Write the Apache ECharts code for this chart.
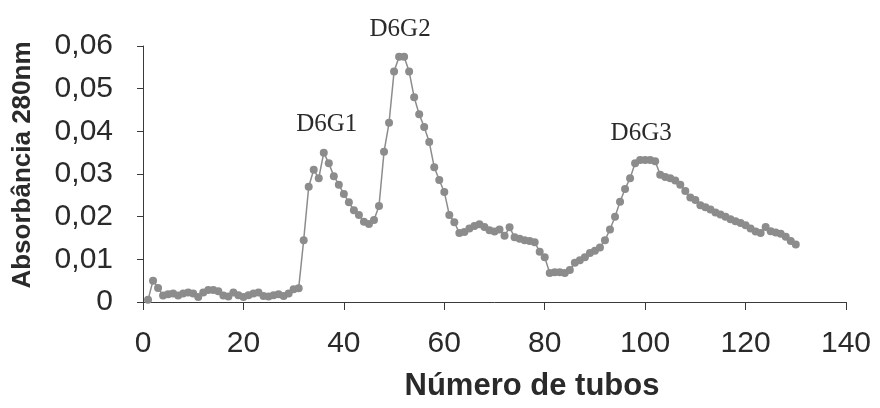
<!DOCTYPE html>
<html>
<head>
<meta charset="utf-8">
<script src="https://cdn.jsdelivr.net/npm/echarts@6/dist/echarts.min.js"></script>
<style>
html,body{margin:0;padding:0;background:#fff;}
#chart{width:880px;height:408px;}
</style>
</head>
<body>
<div id="chart"></div>
<script>
// Tube numbers (x) and absorbance at 280 nm (y)
var tubes = [];
for (var t = 1; t <= 130; t++) tubes.push(t);
var absorbance = [
  0.0005, 0.0050, 0.0033, 0.0015, 0.0018, 0.0020, 0.0015, 0.0020, 0.0022, 0.0020,
  0.0012, 0.0022, 0.0028, 0.0028, 0.0025, 0.0015, 0.0013, 0.0022, 0.0016, 0.0012,
  0.0016, 0.0020, 0.0022, 0.0014, 0.0013, 0.0016, 0.0018, 0.0014, 0.0020, 0.0030,
  0.0032, 0.0145, 0.0270, 0.0310, 0.0290, 0.0350, 0.0325, 0.0295, 0.0275, 0.0253,
  0.0234, 0.0215, 0.0204, 0.0188, 0.0183, 0.0192, 0.0225, 0.0352, 0.0420, 0.0540,
  0.0575, 0.0575, 0.0540, 0.0480, 0.0440, 0.0410, 0.0375, 0.0316, 0.0286, 0.0258,
  0.0204, 0.0187, 0.0162, 0.0164, 0.0172, 0.0178, 0.0182, 0.0176, 0.0168, 0.0165,
  0.0170, 0.0155, 0.0175, 0.0152, 0.0148, 0.0145, 0.0143, 0.0140, 0.0118, 0.0105,
  0.0068, 0.0070, 0.0070, 0.0068, 0.0075, 0.0092, 0.0098, 0.0105, 0.0115, 0.0120,
  0.0128, 0.0145, 0.0170, 0.0200, 0.0235, 0.0265, 0.0290, 0.0325, 0.0333, 0.0333,
  0.0333, 0.0330, 0.0298, 0.0293, 0.0290, 0.0285, 0.0275, 0.0260, 0.0245, 0.0239,
  0.0227, 0.0222, 0.0217, 0.0210, 0.0205, 0.0200, 0.0194, 0.0189, 0.0185, 0.0180,
  0.0172, 0.0165, 0.0162, 0.0176, 0.0166, 0.0163, 0.0160, 0.0153, 0.0143, 0.0135
];
// Peak annotations
var peakNames = ['D6G1', 'D6G2', 'D6G3'];
var peakTubes = [36, 51, 100];
var peakValues = [0.035, 0.0575, 0.0333];
var peakOffsets = [[3, -28], [1, -27], [-4, -26]];

var xTicks = [0, 20, 40, 60, 80, 100, 120, 140];
var yTicks = [0, 0.01, 0.02, 0.03, 0.04, 0.05, 0.06];

var seriesData = tubes.map(function (t, i) { return [t, absorbance[i]]; });
var markData = peakNames.map(function (n, i) {
  return {
    name: n, coord: [peakTubes[i], peakValues[i]],
    label: { offset: peakOffsets[i] }
  };
});

var chart = echarts.init(document.getElementById('chart'), null, { renderer: 'canvas' });
var axisColor = '#3a3a3a';
var textColor = '#2a2a2a';
chart.setOption({
  animation: false,
  backgroundColor: '#ffffff',
  grid: { left: 143, right: 34, top: 46, bottom: 106, containLabel: false },
  xAxis: {
    type: 'value', min: xTicks[0], max: xTicks[xTicks.length - 1], interval: 20,
    axisLine: { show: true, lineStyle: { color: axisColor, width: 1 } },
    axisTick: { show: true, length: 8, lineStyle: { color: axisColor } },
    splitLine: { show: false },
    axisLabel: { margin: 27, color: textColor, fontFamily: 'Liberation Sans, Arial, sans-serif', fontSize: 30 }
  },
  yAxis: {
    type: 'value', min: yTicks[0], max: yTicks[yTicks.length - 1], interval: 0.01,
    axisLine: { show: true, lineStyle: { color: axisColor, width: 1 } },
    axisTick: { show: true, length: 6, lineStyle: { color: axisColor } },
    splitLine: { show: false },
    axisLabel: {
      margin: 30, color: textColor, fontFamily: 'Liberation Sans, Arial, sans-serif', fontSize: 30,
      formatter: function (v) { return v === 0 ? '0' : v.toFixed(2).replace('.', ','); }
    }
  },
  graphic: [
    {
      type: 'text', x: 23, y: 165, rotation: Math.PI / 2,
      style: {
        text: 'Absorbância 280nm', fill: textColor, align: 'center', verticalAlign: 'middle',
        font: 'bold 26px "Liberation Sans", Arial, sans-serif'
      }
    },
    {
      type: 'text', x: 532, y: 386,
      style: {
        text: 'Número de tubos', fill: textColor, align: 'center', verticalAlign: 'middle',
        font: 'bold 31px "Liberation Sans", Arial, sans-serif'
      }
    }
  ],
  series: [{
    type: 'line',
    data: seriesData,
    symbol: 'circle',
    symbolSize: 8,
    showAllSymbol: true,
    lineStyle: { color: '#8c8c8c', width: 1.5 },
    itemStyle: { color: '#8c8c8c', borderWidth: 0 },
    markPoint: {
      symbol: 'circle', symbolSize: 1,
      itemStyle: { color: 'rgba(0,0,0,0)' },
      label: {
        show: true, position: 'inside', formatter: '{b}', color: textColor,
        fontFamily: 'Liberation Serif, "Times New Roman", serif', fontSize: 25
      },
      data: markData
    }
  }]
});
</script>
</body>
</html>
